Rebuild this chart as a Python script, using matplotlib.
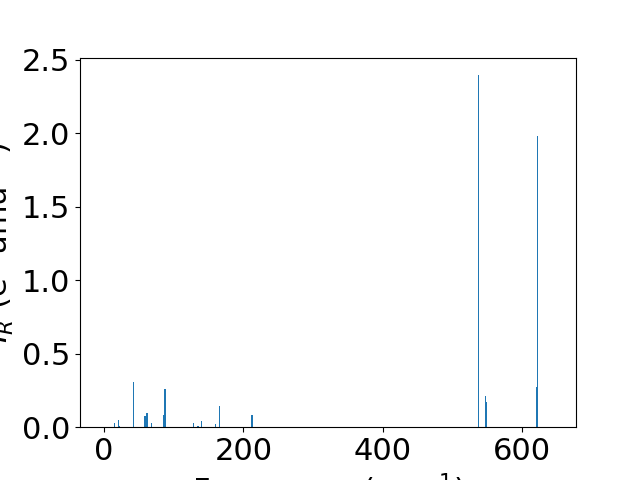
import matplotlib
matplotlib.use("Agg")
import matplotlib.pyplot as plt

# IR-active modes: frequency (cm^-1) and intensity (e^2 amu^-1)
freqs = [15.4, 20.5, 21.5, 42.8, 58.8, 61.7, 68.2, 85.4, 87.6,
         128.5, 134.9, 139.9, 160.0, 165.8, 212.4,
         537.5, 547.3, 548.7, 620.8, 622.3]
intensities = [0.030, 0.048, 0.010, 0.306, 0.075, 0.095, 0.027, 0.082, 0.259,
               0.027, 0.007, 0.041, 0.020, 0.143, 0.082,
               2.396, 0.212, 0.172, 0.274, 1.982]

plt.rcParams["font.size"] = 22

fig, ax = plt.subplots(figsize=(6.4, 4.8), dpi=100)
ax.bar(freqs, intensities, width=2.0, color="#1f77b4")
ax.set_xlim(-34.4, 677.5)
ax.set_xlabel("Frequency (cm$^{-1}$)")
ax.set_ylabel("$I_R$ (e$^2$ amu$^{-1}$)")
fig.savefig("out.png", dpi=100)
